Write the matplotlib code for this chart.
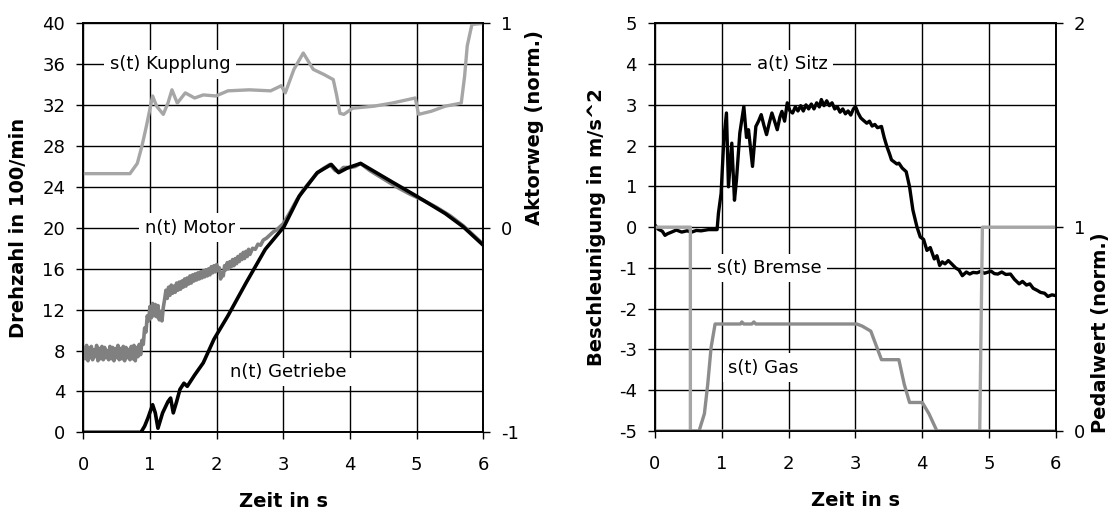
import matplotlib
matplotlib.use("Agg")
import matplotlib.pyplot as plt

# ---- linkes Diagramm: Drehzahlen und Kupplungsweg ----
t_motor = [0.00, 0.02, 0.03, 0.05, 0.07, 0.09, 0.10, 0.12, 0.14, 0.16, 0.18, 0.20,
           0.22, 0.24, 0.26, 0.28, 0.30, 0.32, 0.34, 0.36, 0.38, 0.40, 0.42, 0.44,
           0.46, 0.48, 0.50, 0.52, 0.54, 0.56, 0.58, 0.60, 0.62, 0.64, 0.66, 0.68,
           0.70, 0.72, 0.74, 0.76, 0.78, 0.80, 0.82, 0.84, 0.86, 0.88, 0.90, 0.92,
           0.94, 0.96, 0.98, 1.00, 1.02, 1.04, 1.06, 1.08, 1.10, 1.12, 1.14, 1.16,
           1.18, 1.20, 1.22, 1.24, 1.26, 1.28, 1.30, 1.32, 1.34, 1.36, 1.38, 1.40,
           1.42, 1.44, 1.46, 1.48, 1.50, 1.52, 1.54, 1.56, 1.58, 1.60, 1.62, 1.64,
           1.66, 1.68, 1.70, 1.72, 1.74, 1.76, 1.78, 1.80, 1.82, 1.84, 1.86, 1.88,
           1.90, 1.92, 1.94, 1.96, 1.98, 2.00, 2.02, 2.04, 2.06, 2.08, 2.10, 2.12,
           2.14, 2.16, 2.18, 2.20, 2.22, 2.24, 2.26, 2.28, 2.30, 2.32, 2.34, 2.36,
           2.38, 2.40, 2.42, 2.44, 2.46, 2.48, 2.50, 2.54, 2.58, 2.62, 2.66, 2.70,
           2.75, 2.80, 2.85, 2.90, 2.95, 3.00, 3.10, 3.20, 3.30, 3.40, 3.50, 3.60,
           3.70, 3.78, 3.84, 3.90, 4.00, 4.08, 4.16, 4.30, 4.50, 4.70, 4.90, 5.10,
           5.30, 5.50, 5.70, 5.85, 6.00]
n_motor = [7.4, 8.3, 7.2, 8.5, 7.0, 8.2, 7.3, 8.4, 7.1, 8.1, 7.4, 8.5,
           7.0, 8.2, 7.2, 8.4, 7.1, 8.3, 7.3, 8.0, 7.1, 8.4, 7.2, 8.3,
           7.0, 8.2, 7.3, 8.5, 7.1, 8.2, 7.2, 8.4, 7.0, 8.3, 7.3, 8.1,
           7.1, 8.4, 7.2, 8.5, 7.0, 8.3, 7.4, 8.6, 7.6, 9.0, 8.6, 10.2,
           9.8, 11.4, 10.9, 12.3, 11.2, 12.6, 11.4, 12.5, 11.3, 12.4, 11.0, 11.8,
           10.9, 12.2, 13.0, 13.9, 13.1, 14.2, 13.4, 14.4, 13.6, 14.3, 13.7, 14.6,
           13.9, 14.7, 14.0, 14.8, 14.2, 15.0, 14.3, 15.1, 14.5, 15.3, 14.6, 15.4,
           14.8, 15.5, 14.9, 15.6, 15.0, 15.7, 15.1, 15.8, 15.2, 15.9, 15.3, 16.0,
           15.4, 16.2, 15.6, 16.3, 15.7, 16.4, 15.8, 16.1, 15.0, 15.6, 15.3, 16.3,
           15.9, 16.6, 16.0, 16.7, 16.2, 16.9, 16.3, 17.0, 16.5, 17.2, 16.7, 17.4,
           16.9, 17.6, 17.0, 17.7, 17.2, 17.9, 17.4, 18.0, 17.9, 18.4, 18.3, 18.8,
           19.0, 19.3, 19.6, 19.8, 20.1, 20.4, 21.5, 22.7, 23.7, 24.5, 25.3, 25.8,
           26.2, 25.6, 25.5, 25.9, 25.9, 26.0, 26.3, 25.6, 24.8, 24.0, 23.3, 22.7,
           22.0, 21.2, 20.2, 19.3, 18.4]

t_getriebe = [0.0, 0.865, 0.92, 0.97, 1.04, 1.08, 1.12, 1.19, 1.27, 1.31, 1.35,
              1.40, 1.45, 1.51, 1.56, 1.67, 1.80, 1.96, 2.17, 2.44, 2.73, 3.01,
              3.24, 3.51, 3.72, 3.83, 3.96, 4.16, 4.63, 5.00, 5.43, 5.70, 6.00]
n_getriebe = [0.0, 0.0, 0.6, 1.4, 2.7, 1.9, 0.4, 1.9, 3.0, 3.35, 1.9,
              3.0, 4.2, 4.8, 4.5, 5.6, 6.8, 9.1, 11.4, 14.6, 17.9, 20.1,
              23.1, 25.4, 26.2, 25.4, 25.85, 26.3, 24.5, 23.1, 21.4, 20.1, 18.3]

t_kupplung = [0.0, 0.70, 0.81, 0.88, 0.945, 1.04, 1.10, 1.20, 1.27, 1.33, 1.41,
              1.53, 1.67, 1.80, 1.99, 2.17, 2.49, 2.81, 2.97, 3.03, 3.16, 3.30,
              3.45, 3.61, 3.75, 3.80, 3.85, 3.91, 4.04, 4.36, 4.63, 4.98, 5.03,
              5.22, 5.43, 5.67, 5.72, 5.76, 5.83, 6.0]
s_kupplung = [0.265, 0.265, 0.315, 0.40, 0.495, 0.645, 0.595, 0.555, 0.61, 0.675, 0.61,
              0.66, 0.635, 0.65, 0.645, 0.67, 0.675, 0.67, 0.695, 0.66, 0.775, 0.855,
              0.775, 0.75, 0.725, 0.65, 0.56, 0.555, 0.585, 0.595, 0.61, 0.635, 0.555,
              0.57, 0.595, 0.61, 0.74, 0.89, 0.995, 1.0]

# ---- rechtes Diagramm: Sitzbeschleunigung und Pedale ----
t_sitz = [0.0, 0.05, 0.11, 0.15, 0.19, 0.25, 0.32, 0.40, 0.48, 0.55, 0.62, 0.69,
          0.80, 0.93, 0.95, 0.99, 1.03, 1.07, 1.10, 1.15, 1.19, 1.22, 1.27, 1.33,
          1.37, 1.40, 1.46, 1.51, 1.55, 1.59, 1.63, 1.67, 1.71, 1.75, 1.79, 1.83,
          1.87, 1.90, 1.94, 1.98, 2.02, 2.06, 2.10, 2.14, 2.18, 2.22, 2.26, 2.30,
          2.34, 2.38, 2.42, 2.46, 2.49, 2.53, 2.57, 2.61, 2.65, 2.69, 2.73, 2.77,
          2.81, 2.85, 2.89, 2.93, 2.97, 3.00, 3.04, 3.08, 3.12, 3.17, 3.21, 3.25,
          3.29, 3.33, 3.39, 3.43, 3.47, 3.51, 3.54, 3.58, 3.62, 3.65, 3.70, 3.76,
          3.81, 3.86, 3.92, 3.97, 4.02, 4.07, 4.12, 4.18, 4.22, 4.26, 4.30, 4.34,
          4.39, 4.44, 4.50, 4.55, 4.60, 4.66, 4.71, 4.76, 4.82, 4.88, 4.93, 4.97,
          5.03, 5.08, 5.13, 5.19, 5.25, 5.32, 5.38, 5.45, 5.50, 5.56, 5.61, 5.66,
          5.72, 5.77, 5.83, 5.88, 5.94, 6.0]
a_sitz = [0.05, -0.05, -0.1, -0.2, -0.16, -0.12, -0.07, -0.12, -0.09, -0.12, -0.08, -0.09,
          -0.06, -0.06, 0.34, 0.83, 2.14, 2.8, 0.99, 2.06, 0.66, 1.16, 2.31, 2.96,
          2.2, 2.39, 1.49, 2.47, 2.6, 2.76, 2.5, 2.27, 2.55, 2.8, 2.6, 2.39,
          2.7, 2.84, 2.6, 3.05, 2.85, 2.8, 2.95, 2.85, 2.98, 2.85, 3.0, 2.9,
          3.02, 2.9, 3.05, 2.95, 3.13, 2.98, 3.1, 2.98, 3.05, 2.9, 2.95, 2.82,
          2.9, 2.78, 2.85, 2.75, 2.9, 2.96, 2.8, 2.68, 2.62, 2.55, 2.6, 2.48,
          2.52, 2.44, 2.47, 2.2, 1.98, 1.8, 1.65, 1.6, 1.55, 1.57, 1.45, 1.36,
          0.99, 0.42, 0.01, -0.24, -0.3, -0.57, -0.5, -0.78, -0.7, -0.94, -0.85, -0.9,
          -0.82, -0.9, -1.0, -1.05, -1.19, -1.1, -1.15, -1.11, -1.12, -1.08, -1.13, -1.11,
          -1.08, -1.14, -1.15, -1.1, -1.16, -1.15, -1.28, -1.39, -1.33, -1.42, -1.39, -1.5,
          -1.55, -1.6, -1.62, -1.7, -1.66, -1.68]

t_bremse = [0.0, 0.53, 0.53, 4.86, 4.90, 6.0]
p_bremse = [1.0, 1.0, 0.0, 0.0, 1.0, 1.0]

t_gas = [0.0, 0.66, 0.74, 0.79, 0.84, 0.90, 1.28, 1.30, 1.33, 1.45, 1.48, 1.51,
         3.02, 3.10, 3.23, 3.39, 3.65, 3.73, 3.81, 4.00, 4.10, 4.22, 6.0]
p_gas = [0.0, 0.0, 0.085, 0.23, 0.41, 0.525, 0.525, 0.535, 0.525, 0.525, 0.535, 0.525,
         0.525, 0.515, 0.49, 0.35, 0.35, 0.23, 0.14, 0.14, 0.085, 0.0, 0.0]

FS_TICK = 13
FS_LABEL = 14
FS_NOTE = 13
GRAU_HELL = "#a6a6a6"
GRAU_DUNKEL = "#808080"
GRAU_GAS = "#8c8c8c"

plt.rcParams["font.family"] = ["DejaVu Sans"]
plt.rcParams["axes.unicode_minus"] = False

fig = plt.figure(figsize=(11.15, 5.17), dpi=100)


def style(ax, twin):
    for a in (ax, twin):
        for sp in a.spines.values():
            sp.set_color("black")
            sp.set_linewidth(1.2)
        a.tick_params(direction="out", length=5, width=1, pad=8,
                      labelsize=FS_TICK, colors="black")
    ax.tick_params(axis="x", pad=12)
    ax.tick_params(right=False, top=False)
    twin.tick_params(left=False, right=True)
    ax.set_axisbelow(True)
    ax.grid(True, color="black", linewidth=1.0)
    ax.set_xlim(0, 6)
    ax.set_xticks(range(0, 7))
    ax.set_xlabel("Zeit in s", fontsize=FS_LABEL, fontweight="bold", labelpad=13)


def note(ax, x, y, txt):
    ax.text(x, y, txt, ha="center", va="center", fontsize=FS_NOTE, zorder=3,
            bbox=dict(boxstyle="square,pad=0.3", facecolor="white", edgecolor="none"))


# links
ax1 = fig.add_axes([0.0747, 0.1638, 0.3587, 0.791])
ax1b = ax1.twinx()
style(ax1, ax1b)
ax1.plot(t_motor, n_motor, color=GRAU_DUNKEL, linewidth=2.6, zorder=2)
ax1.plot(t_getriebe, n_getriebe, color="black", linewidth=2.6, zorder=2.5)
ax1b.plot(t_kupplung, s_kupplung, color=GRAU_HELL, linewidth=2.4)
ax1.set_ylim(0, 40)
ax1.set_yticks(range(0, 41, 4))
ax1b.set_ylim(-1, 1)
ax1b.set_yticks([-1, 0, 1])
ax1.set_ylabel("Drehzahl in 100/min", fontsize=FS_LABEL, fontweight="bold", labelpad=10)
ax1b.set_ylabel("Aktorweg (norm.)", fontsize=FS_LABEL, fontweight="bold", labelpad=4, y=0.745)
note(ax1, 1.3, 36, "s(t) Kupplung")
note(ax1, 1.6, 20, "n(t) Motor")
note(ax1, 3.08, 5.9, "n(t) Getriebe")

# rechts
ax2 = fig.add_axes([0.5874, 0.1663, 0.3596, 0.7886])
ax2b = ax2.twinx()
style(ax2, ax2b)
ax2.plot(t_sitz, a_sitz, color="black", linewidth=2.4, zorder=2)
ax2b.plot(t_bremse, p_bremse, color=GRAU_HELL, linewidth=2.4)
ax2b.plot(t_gas, p_gas, color=GRAU_GAS, linewidth=2.4)
ax2.set_ylim(-5, 5)
ax2.set_yticks(range(-5, 6))
ax2b.set_ylim(0, 2)
ax2b.set_yticks([0, 1, 2])
ax2.set_ylabel("Beschleunigung in m/s^2", fontsize=FS_LABEL, fontweight="bold", labelpad=9)
ax2b.set_ylabel("Pedalwert (norm.)", fontsize=FS_LABEL, fontweight="bold", labelpad=4, y=0.24)
note(ax2, 2.05, 4, "a(t) Sitz")
note(ax2, 1.71, -1, "s(t) Bremse")
note(ax2, 1.62, -3.45, "s(t) Gas")

fig.savefig("out.png", dpi=100)
